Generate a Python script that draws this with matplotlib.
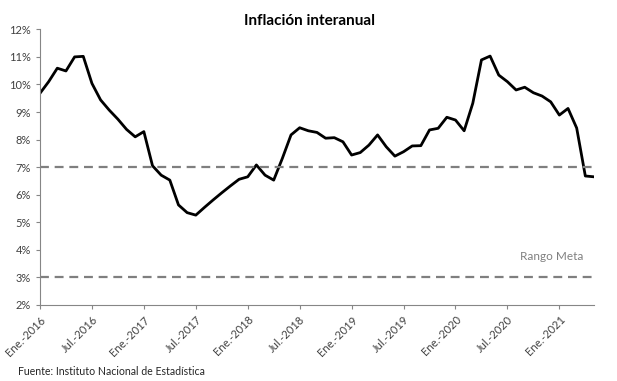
import matplotlib.pyplot as plt

# Inflación interanual mensual, Ene-2016 .. May-2021 (%)
inflacion = [9.68, 10.1, 10.59, 10.49, 11.0, 11.02, 10.04, 9.44, 9.07, 8.74,
             8.37, 8.1, 8.29, 7.05, 6.71, 6.53, 5.63, 5.35, 5.26, 5.54,
             5.81, 6.07, 6.32, 6.56, 6.65, 7.08, 6.71, 6.53, 7.32, 8.17,
             8.43, 8.32, 8.26, 8.05, 8.07, 7.92, 7.44, 7.53, 7.8, 8.17,
             7.74, 7.4, 7.56, 7.77, 7.78, 8.35, 8.41, 8.81, 8.71, 8.32,
             9.32, 10.89, 11.03, 10.34, 10.1, 9.8, 9.9, 9.7, 9.58, 9.37,
             8.89, 9.13, 8.42, 6.68, 6.65]
tick_labels = ['Ene.-2016', 'Jul.-2016', 'Ene.-2017', 'Jul.-2017', 'Ene.-2018',
               'Jul.-2018', 'Ene.-2019', 'Jul.-2019', 'Ene.-2020', 'Jul.-2020',
               'Ene.-2021']
rango_meta = [3, 7]

plt.rcParams['font.family'] = ['Lato', 'DejaVu Sans']

fig = plt.figure(figsize=(6.17, 3.81), dpi=100, facecolor='white')
ax = fig.add_axes([0.0648, 0.1995, 0.8979, 0.7235])

meses = list(range(len(inflacion)))
ax.plot(meses, inflacion, color='black', linewidth=2.0, solid_joinstyle='round')

# Rango meta (líneas punteadas)
for lim in rango_meta:
    ax.axhline(lim, color='#7f7f7f', linewidth=1.6, linestyle=(0, (4, 2.6)))

ax.set_xlim(0, len(inflacion) - 1)
ax.set_ylim(2, 12)
ax.set_yticks(range(2, 13))
ax.set_yticklabels([f'{v}%' for v in range(2, 13)])
ax.set_xticks(range(0, len(inflacion), 6))
ax.set_xticklabels(tick_labels, rotation=45, ha='right', rotation_mode='anchor')

ax.tick_params(axis='both', colors='#868686', labelcolor='#404040',
               labelsize=8, length=3, width=0.8)
for side in ['top', 'right']:
    ax.spines[side].set_visible(False)
for side in ['left', 'bottom']:
    ax.spines[side].set_color('#868686')
    ax.spines[side].set_linewidth(0.8)

fig.text(0.502, 0.945, 'Inflación interanual', ha='center', va='center',
         fontsize=11, fontweight='bold', color='black')
ax.text(0.98, 0.175, 'Rango Meta', transform=ax.transAxes, ha='right',
        va='center', fontsize=8.5, color='#808080')
fig.text(0.029, 0.024, 'Fuente: Instituto Nacional de Estadística',
         ha='left', va='center', fontsize=7.6, color='#262626')

fig.savefig('out.png', dpi=100, facecolor='white')
